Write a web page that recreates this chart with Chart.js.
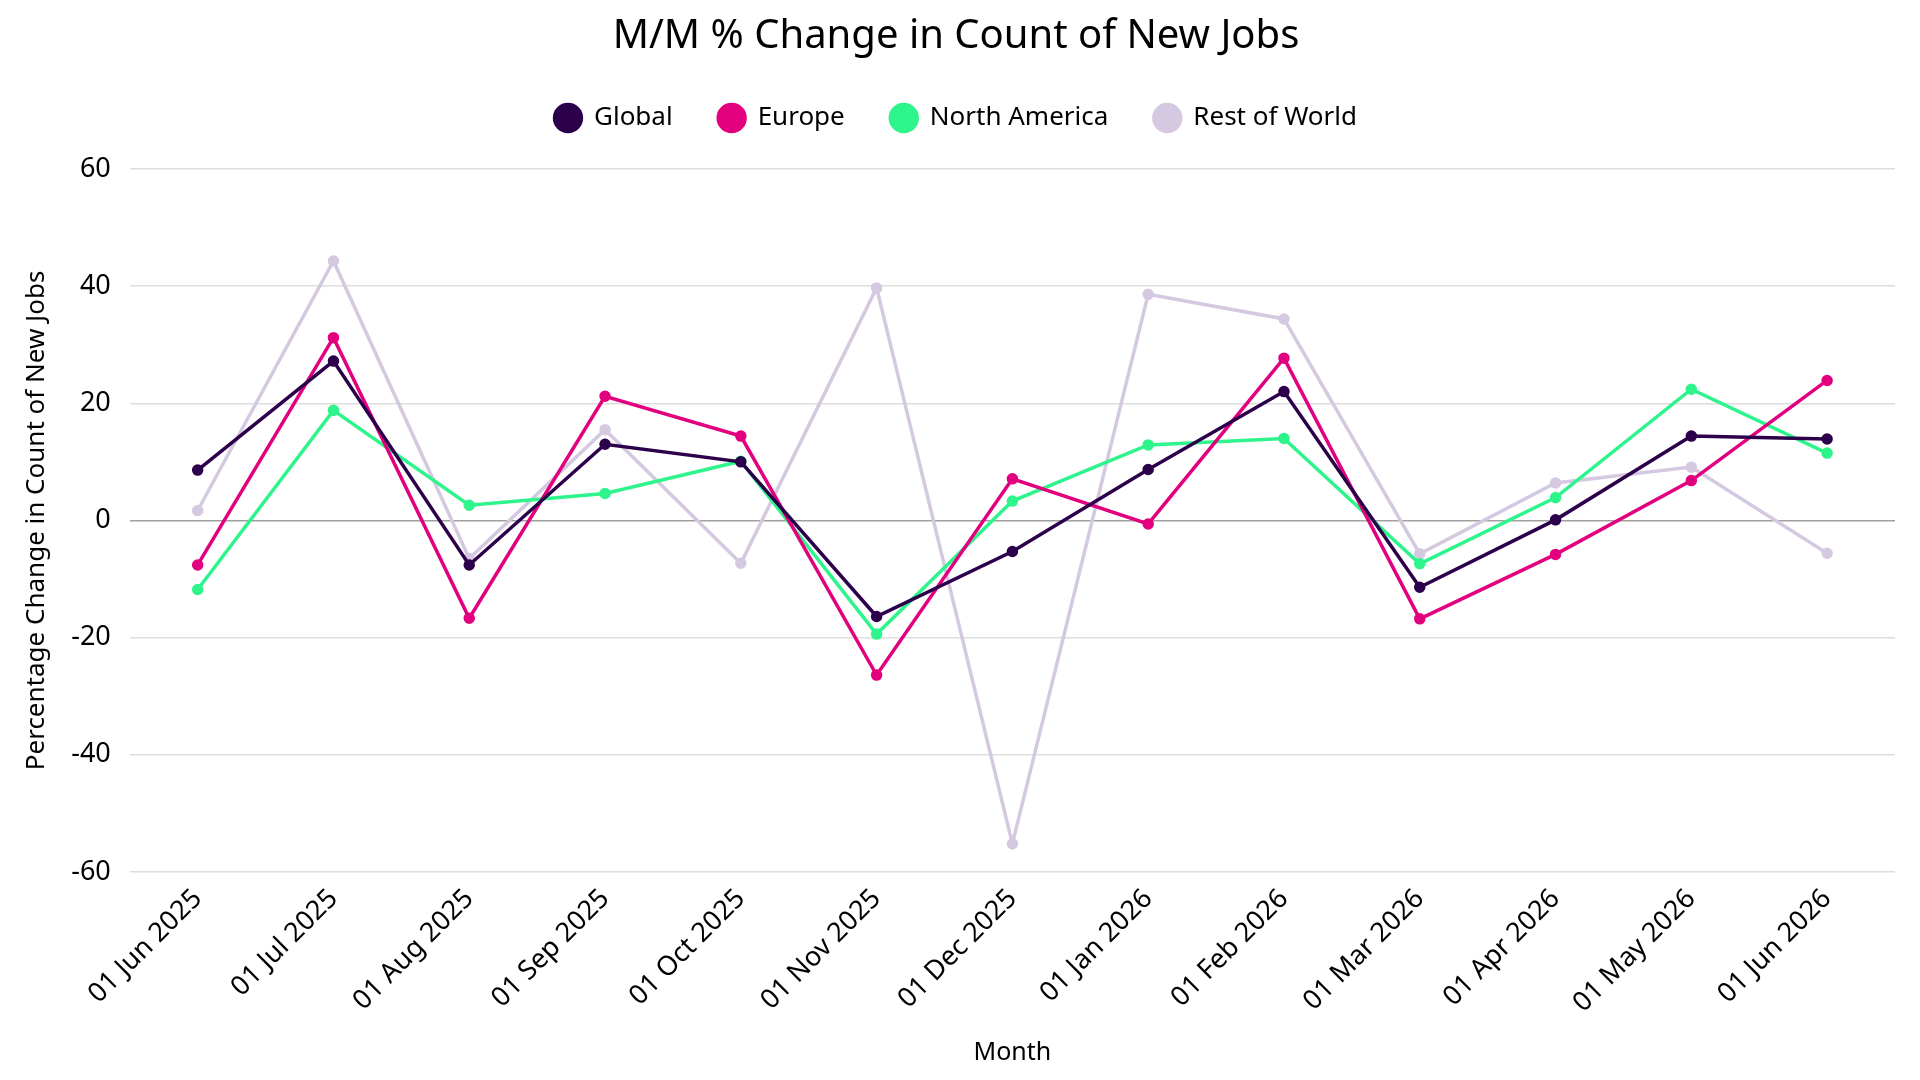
<!DOCTYPE html>
<html>
<head>
<meta charset="utf-8">
<script src="https://cdn.jsdelivr.net/npm/chart.js@4"></script>
<style>
  html, body { margin: 0; padding: 0; background: #fff; }
  #wrap { width: 1920px; height: 1080px; }
</style>
</head>
<body>
<div id="wrap"><canvas id="jobsChart" width="1920" height="1080"></canvas></div>
<script>
const months = ['01 Jun 2025', '01 Jul 2025', '01 Aug 2025', '01 Sep 2025', '01 Oct 2025', '01 Nov 2025',
    '01 Dec 2025', '01 Jan 2026', '01 Feb 2026', '01 Mar 2026', '01 Apr 2026', '01 May 2026', '01 Jun 2026'];
const globalVals = [8.6, 27.2, -7.6, 13.0, 10.0, -16.4, -5.3, 8.7, 22.0, -11.4, 0.1, 14.4, 13.9];
const europeVals = [-7.6, 31.2, -16.7, 21.2, 14.4, -26.4, 7.1, -0.6, 27.7, -16.8, -5.8, 6.8, 23.9];
const northAmericaVals = [-11.8, 18.8, 2.6, 4.6, 10.1, -19.4, 3.3, 12.9, 14.0, -7.4, 3.9, 22.4, 11.5];
const restOfWorldVals = [1.7, 44.3, -6.5, 15.5, -7.3, 39.7, -55.2, 38.6, 34.4, -5.7, 6.4, 9.1, -5.6];

const FONT = "'Noto Sans', sans-serif";

function series(label, data, color) {
    return {
        label: label,
        data: data,
        borderColor: color,
        backgroundColor: color,
        borderWidth: 3.5,
        pointRadius: 4,
        pointHoverRadius: 4,
        tension: 0
    };
}

// extra room under the legend
const legendGap = {
    id: 'legendGap',
    beforeInit(chart) {
        const fit = chart.legend.fit;
        chart.legend.fit = function () {
            fit.bind(chart.legend)();
            this.height += 28;
        };
    }
};

const ctx = document.getElementById('jobsChart').getContext('2d');
const chart = new Chart(ctx, {
    type: 'line',
    data: {
        labels: months,
        datasets: [
            series('Global', globalVals, '#2d004b'),
            series('Europe', europeVals, '#e2007f'),
            series('North America', northAmericaVals, '#2ef58b'),
            series('Rest of World', restOfWorldVals, '#d4c9e1')
        ]
    },
    options: {
        responsive: false,
        animation: false,
        layout: { padding: { top: 0, right: 25, bottom: 8, left: 17 } },
        plugins: {
            title: {
                display: true,
                text: 'M/M % Change in Count of New Jobs',
                color: '#000',
                font: { family: FONT, size: 40, weight: 'normal', lineHeight: 1 },
                padding: { top: 17, bottom: 2 }
            },
            legend: {
                labels: {
                    usePointStyle: true,
                    pointStyle: 'circle',
                    boxHeight: 19,
                    color: '#000',
                    padding: 46,
                    font: { family: FONT, size: 26 }
                }
            },
            tooltip: { enabled: false }
        },
        scales: {
            x: {
                offset: true,
                grid: { display: false },
                border: { display: false },
                ticks: {
                    color: '#000',
                    maxRotation: 45,
                    minRotation: 45,
                    font: { family: FONT, size: 27 }
                },
                title: {
                    display: true,
                    text: 'Month',
                    color: '#000',
                    font: { family: FONT, size: 25 },
                    padding: { top: 16, bottom: 4 }
                }
            },
            y: {
                min: -60,
                max: 60,
                border: { display: false },
                grid: {
                    drawTicks: false,
                    lineWidth: 1.5,
                    color: c => c.tick && c.tick.value === 0 ? '#a0a0a0' : '#dddddd'
                },
                ticks: {
                    stepSize: 20,
                    padding: 19,
                    color: '#000',
                    font: { family: FONT, size: 27 }
                },
                title: {
                    display: true,
                    text: 'Percentage Change in Count of New Jobs',
                    color: '#000',
                    font: { family: FONT, size: 26 },
                    padding: { top: 4, bottom: 0 }
                }
            }
        }
    },
    plugins: [legendGap]
});
</script>
</body>
</html>
